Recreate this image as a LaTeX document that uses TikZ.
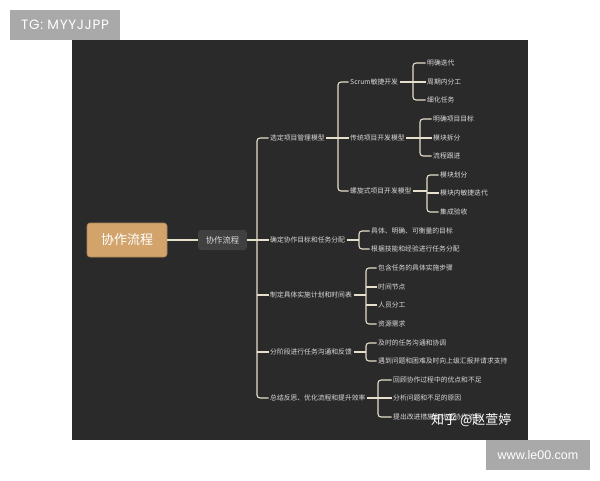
\documentclass[tikz,border=0pt]{standalone}
\usepackage{fontspec}
\setmainfont{Noto Sans CJK SC}
\newfontfamily\latf{Liberation Sans}
\newfontfamily\popf[LetterSpace=5]{Poppins}
\definecolor{bgc}{HTML}{2A2A2A}
\definecolor{linec}{HTML}{E6DFCB}
\definecolor{txtc}{HTML}{DADADA}
\definecolor{tanc}{HTML}{D2A46C}
\definecolor{hubc}{HTML}{404040}
\definecolor{greyc}{HTML}{A9A9A9}
\begin{document}
\begin{tikzpicture}[x=1pt,y=-1pt,
  conn/.style={draw=linec, line width=1.1pt},
  bracket/.style={conn, rounded corners=3pt},
  lbl/.style={anchor=west, inner sep=1.5pt, text=txtc, font=\fontsize{6.8}{8}\selectfont},
  mainbox/.style={fill=tanc, draw=tanc!80!black, line width=0.6pt, rounded corners=3pt, minimum width=80pt, minimum height=34pt, inner sep=0pt, text=white, font=\fontsize{13}{15}\selectfont},
  hubbox/.style={fill=hubc, rounded corners=3pt, minimum width=49pt, minimum height=20pt, inner sep=0pt, text=txtc, font=\fontsize{8.3}{10}\selectfont},
  tagbox/.style={fill=greyc, minimum width=110pt, minimum height=30pt, inner sep=0pt, text=white},
  wmark/.style={text=white, inner sep=0pt, font=\fontsize{13}{15}\selectfont}
]
\useasboundingbox (0,0) rectangle (600,480);
\fill[white] (0,0) rectangle (600,480);
\fill[bgc] (72,40) rectangle (528,440);

% labels
\node[tagbox, font=\popf\fontsize{13.5}{15}\selectfont] (tg) at (65,25) {TG: MYYJJPP};
\node[tagbox, minimum width=104pt, font=\latf\fontsize{12.5}{14}\selectfont] (www) at (538,455) {www.le00.com};

% root and hub
\node[mainbox] (root) at (127,240) {协作流程};
\node[hubbox] (hub) at (222.5,240) {协作流程};
\draw[conn] (root.east) -- (hub.west);
\coordinate (s0) at (257,240);
\draw[conn] (hub.east) -- (s0);

% level 1
\node[lbl] (a1) at (268.5,138) {选定项目管理模型};
\node[lbl] (a2) at (268.5,240) {确定协作目标和任务分配};
\node[lbl] (a3) at (268.5,295) {制定具体实施计划和时间表};
\node[lbl] (a4) at (268.5,352) {分阶段进行任务沟通和反馈};
\node[lbl] (a5) at (268.5,398) {总结反思、优化流程和提升效率};
\draw[bracket] (a1.west) -| (s0) |- (a5.west);
\draw[conn] (a2.west -| s0) -- (a2.west);
\draw[conn] (a3.west -| s0) -- (a3.west);
\draw[conn] (a4.west -| s0) -- (a4.west);

% group 1: models
\coordinate (v1) at (338,138);
\node[lbl] (b1) at (348.5,82) {Scrum敏捷开发};
\node[lbl] (b2) at (348.5,138) {传统项目开发模型};
\node[lbl] (b3) at (348.5,191) {螺旋式项目开发模型};
\draw[conn] (a1.east) -- (v1);
\draw[bracket] (b1.west) -| (v1) |- (b3.west);
\draw[conn] (v1) -- (b2.west);

\coordinate (v11) at (413,82);
\node[lbl] (c1) at (425.5,63) {明确迭代};
\node[lbl] (c2) at (425.5,82) {周期内分工};
\node[lbl] (c3) at (425.5,100) {细化任务};
\draw[conn] (b1.east) -- (v11);
\draw[bracket] (c1.west) -| (v11) |- (c3.west);
\draw[conn] (v11) -- (c2.west);

\coordinate (v12) at (420,138);
\node[lbl] (d1) at (431.5,119) {明确项目目标};
\node[lbl] (d2) at (431.5,138) {模块拆分};
\node[lbl] (d3) at (431.5,156) {流程跟进};
\draw[conn] (b2.east) -- (v12);
\draw[bracket] (d1.west) -| (v12) |- (d3.west);
\draw[conn] (v12) -- (d2.west);

\coordinate (v13) at (427,193);
\node[lbl] (e1) at (438.5,175) {模块划分};
\node[lbl] (e2) at (438.5,193) {模块内敏捷迭代};
\node[lbl] (e3) at (438.5,212) {集成验收};
\draw[conn] (b3.east) -- (b3.east -| v13);
\draw[bracket] (e1.west) -| (v13) |- (e3.west);
\draw[conn] (v13) -- (e2.west);

% group 2
\coordinate (v2) at (359,240);
\node[lbl] (f1) at (369.5,231) {具体、明确、可衡量的目标};
\node[lbl] (f2) at (369.5,249) {根据技能和经验进行任务分配};
\draw[conn] (a2.east) -- (v2);
\draw[bracket] (f1.west) -| (v2) |- (f2.west);

% group 3
\coordinate (v3) at (366,295);
\node[lbl] (g1) at (376.5,268) {包含任务的具体实施步骤};
\node[lbl] (g2) at (376.5,287) {时间节点};
\node[lbl] (g3) at (376.5,305) {人员分工};
\node[lbl] (g4) at (376.5,324) {资源需求};
\draw[conn] (a3.east) -- (v3);
\draw[bracket] (g1.west) -| (v3) |- (g4.west);
\draw[conn] (g2.west -| v3) -- (g2.west);
\draw[conn] (g3.west -| v3) -- (g3.west);

% group 4
\coordinate (v4) at (366,352);
\node[lbl] (h1) at (376.5,343) {及时的任务沟通和协调};
\node[lbl] (h2) at (376.5,361) {遇到问题和困难及时向上级汇报并请求支持};
\draw[conn] (a4.east) -- (v4);
\draw[bracket] (h1.west) -| (v4) |- (h2.west);

% group 5
\coordinate (v5) at (378,398);
\node[lbl] (k1) at (391.5,380) {回顾协作过程中的优点和不足};
\node[lbl] (k2) at (391.5,398) {分析问题和不足的原因};
\node[lbl] (k3) at (391.5,417) {提出改进措施和优化协作流程};
\draw[conn] (a5.east) -- (v5);
\draw[bracket] (k1.west) -| (v5) |- (k3.west);
\draw[conn] (v5) -- (k2.west);

% watermark
\node[wmark, anchor=west] (wm) at (431,420) {知乎 @赵萱婷};
\end{tikzpicture}
\end{document}
